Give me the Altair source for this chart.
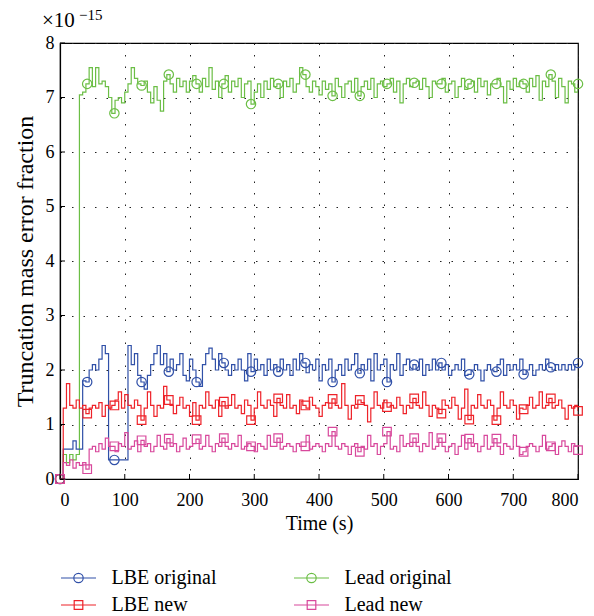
import altair as alt
import pandas as pd

# ---------------- data ----------------
times = list(range(0, 801, 5))  # seconds

lbe_original = [
    0.0, 0.55, 0.55, 0.55, 0.7, 0.55, 0.55, 1.8, 1.78, 2.0,
    2.1, 2.0, 2.2, 2.45, 2.3, 0.35, 0.35, 0.35, 0.35, 0.35,
    0.35, 2.45, 2.1, 2.3, 1.9, 1.78, 1.65, 1.9, 2.1, 2.3,
    2.45, 2.1, 2.3, 1.97, 2.2, 2.0, 2.1, 2.3, 1.9, 1.8,
    2.2, 2.0, 1.78, 1.7, 2.1, 2.3, 2.4, 2.2, 2.0, 2.3,
    2.13, 2.0, 1.9, 2.1, 2.0, 2.2, 2.0, 1.8, 2.3, 1.97,
    2.2, 2.0, 2.1, 1.9, 2.2, 2.0, 2.1, 1.97, 2.2, 2.0,
    2.1, 1.9, 2.2, 2.0, 2.3, 2.13, 1.95, 2.1, 2.0, 2.2,
    1.8, 2.1, 2.0, 2.2, 1.78, 2.0, 2.1, 1.9, 2.2, 2.0,
    2.1, 2.3, 1.94, 2.1, 2.0, 2.2, 1.8, 2.3, 2.0, 2.1,
    2.2, 1.78, 2.1, 2.0, 2.3, 1.9, 2.1, 2.2, 2.0, 2.1,
    2.0, 2.2, 1.9, 2.1, 2.0, 2.2, 2.0, 2.13, 2.0, 2.1,
    1.9, 2.0, 2.1, 2.0, 2.2, 1.9, 1.92, 2.0, 2.1, 2.0,
    1.8, 2.0, 2.1, 2.0, 1.97, 2.1, 2.2, 1.9, 2.1, 2.0,
    2.1, 2.0, 2.2, 1.92, 2.0, 2.1, 1.9, 2.0, 2.1, 2.0,
    2.2, 2.05, 2.0, 2.1, 2.0, 2.1, 2.0, 2.1, 2.0, 2.1,
    2.13,
]

lbe_new = [
    0.0, 1.3, 1.75, 1.35, 1.3, 1.45, 1.3, 1.35, 1.2, 1.3,
    1.35, 1.3, 1.4, 1.15, 1.35, 1.3, 1.35, 1.45, 1.6, 1.3,
    1.55, 1.35, 1.3, 1.45, 1.35, 1.08, 1.3, 1.6, 1.35, 1.15,
    1.35, 1.3, 1.7, 1.45, 1.35, 1.2, 1.35, 1.5, 1.3, 1.35,
    1.15, 1.4, 1.08, 1.35, 1.3, 1.6, 1.35, 1.3, 1.45, 1.15,
    1.42, 1.3, 1.35, 1.55, 1.3, 1.35, 1.2, 1.45, 1.35, 1.08,
    1.3, 1.6, 1.35, 1.3, 1.45, 1.35, 1.15, 1.48, 1.35, 1.3,
    1.55, 1.3, 1.35, 1.2, 1.45, 1.35, 1.3, 1.5, 1.35, 1.3,
    1.15, 1.35, 1.4, 1.3, 1.47, 1.35, 1.3, 1.75, 1.35, 1.1,
    1.35, 1.3, 1.45, 1.4, 1.35, 1.05, 1.3, 1.6, 1.35, 1.3,
    1.45, 1.32, 1.35, 1.3, 1.5, 1.35, 1.2, 1.35, 1.3, 1.48,
    1.35, 1.3, 1.6, 1.35, 1.15, 1.35, 1.3, 1.2, 1.45, 1.35,
    1.3, 1.5, 1.35, 1.1, 1.3, 1.65, 1.09, 1.35, 1.3, 1.55,
    1.35, 1.3, 1.45, 1.35, 1.08, 1.3, 1.6, 1.35, 1.3, 1.45,
    1.35, 1.1, 1.3, 1.28, 1.35, 1.5, 1.3, 1.35, 1.6, 1.3,
    1.35, 1.48, 1.3, 1.35, 1.45, 1.3, 1.1, 1.35, 1.3, 1.35,
    1.25,
]

lead_original = [
    0.0, 0.45, 0.3, 0.45, 0.35, 0.45, 7.05, 7.1, 7.25, 7.55,
    7.2, 7.55, 7.25, 7.3, 7.2, 7.0, 6.71, 6.95, 7.0, 6.9,
    7.1, 7.25, 7.55, 7.35, 7.25, 7.22, 7.3, 7.1, 6.9, 7.2,
    6.95, 6.75, 7.3, 7.42, 7.25, 7.1, 7.35, 7.2, 7.3, 7.1,
    7.3, 7.4, 7.25, 7.1, 7.35, 7.2, 7.55, 7.15, 7.3, 7.0,
    7.25, 7.4, 7.1, 7.3, 7.2, 7.35, 7.0, 7.25, 7.3, 6.88,
    7.1, 7.25, 7.0, 7.3, 7.15, 7.35, 7.2, 7.25, 7.0, 7.3,
    7.2, 7.35, 7.1, 7.25, 7.55, 7.42, 7.2, 7.1, 7.3, 7.2,
    7.05, 7.3, 7.15, 7.25, 7.03, 7.35, 7.2, 7.0, 7.25, 7.3,
    7.1, 7.35, 7.03, 7.2, 7.3, 7.15, 7.35, 7.0, 7.25, 7.3,
    7.2, 7.25, 7.35, 7.1, 7.3, 6.9, 7.25, 7.35, 7.2, 7.27,
    7.3, 7.15, 7.35, 7.2, 7.0, 7.3, 7.25, 7.25, 7.35, 7.1,
    7.25, 7.3, 7.0, 7.2, 7.35, 7.15, 7.25, 7.3, 7.1, 7.35,
    7.2, 7.3, 7.05, 7.25, 7.25, 7.35, 7.2, 6.9, 7.3, 7.15,
    7.35, 7.2, 7.3, 7.25, 7.1, 7.35, 7.2, 7.4, 6.95, 7.3,
    7.2, 7.42, 7.3, 7.0, 7.35, 7.2, 6.9, 7.3, 7.25, 7.1,
    7.25,
]

lead_new = [
    0.0, 0.3, 0.25, 0.35, 0.2, 0.3, 0.25, 0.3, 0.18, 0.55,
    0.6, 0.5, 0.65, 0.55, 0.75, 0.6, 0.6, 0.5, 0.65, 0.6,
    0.85, 0.55, 0.6, 0.7, 0.5, 0.71, 0.6, 0.65, 0.5, 0.6,
    0.8, 0.6, 0.55, 0.74, 0.6, 0.65, 0.5, 0.6, 0.75, 0.55,
    0.6, 0.65, 0.73, 0.55, 0.6, 0.8, 0.6, 0.5, 0.65, 0.6,
    0.75, 0.6, 0.55, 0.65, 0.6, 0.8, 0.55, 0.6, 0.65, 0.6,
    0.5, 0.65, 0.6, 0.55, 0.8, 0.6, 0.6, 0.75, 0.55, 0.6,
    0.65, 0.6, 0.5, 0.65, 0.6, 0.6, 0.8, 0.55, 0.6, 0.65,
    0.6, 0.5, 0.65, 0.6, 0.87, 0.6, 0.55, 0.65, 0.6, 0.45,
    0.6, 0.65, 0.5, 0.6, 0.55, 0.8, 0.6, 0.65, 0.45, 0.6,
    0.65, 0.87, 0.55, 0.6, 0.5, 0.8, 0.6, 0.65, 0.6, 0.75,
    0.6, 0.5, 0.65, 0.6, 0.85, 0.55, 0.6, 0.75, 0.6, 0.5,
    0.6, 0.65, 0.45, 0.6, 0.8, 0.55, 0.74, 0.6, 0.65, 0.5,
    0.6, 0.8, 0.55, 0.6, 0.74, 0.6, 0.45, 0.65, 0.6, 0.55,
    0.8, 0.6, 0.45, 0.5, 0.6, 0.65, 0.6, 0.5, 0.6, 0.8,
    0.55, 0.6, 0.65, 0.45, 0.6, 0.7, 0.6, 0.5, 0.65, 0.6,
    0.53,
]

# marker positions (s) and marker values
marker_t = [0, 42, 84, 126, 168, 211, 253, 295, 337, 379,
            421, 463, 505, 547, 589, 632, 674, 716, 758, 800]
mk_lbe_original = [0.0, 1.78, 0.35, 1.78, 1.97, 1.78, 2.13, 1.97, 1.97, 2.13,
                   1.78, 1.94, 1.78, 2.1, 2.13, 1.92, 1.97, 1.92, 2.05, 2.13]
mk_lbe_new = [0.0, 1.2, 1.35, 1.08, 1.45, 1.08, 1.42, 1.08, 1.48, 1.35,
              1.47, 1.45, 1.32, 1.48, 1.2, 1.09, 1.08, 1.28, 1.48, 1.25]
mk_lead_original = [0.0, 7.25, 6.71, 7.22, 7.42, 7.25, 7.25, 6.88, 7.25, 7.42,
                    7.03, 7.03, 7.25, 7.27, 7.25, 7.25, 7.25, 7.25, 7.42, 7.25]
mk_lead_new = [0.0, 0.18, 0.6, 0.71, 0.74, 0.73, 0.75, 0.6, 0.75, 0.6,
               0.87, 0.5, 0.87, 0.75, 0.75, 0.74, 0.74, 0.5, 0.6, 0.53]

x_ticks = [0, 100, 200, 300, 400, 500, 600, 700, 800]
y_ticks = [0, 1, 2, 3, 4, 5, 6, 7, 8]

series_order = ["LBE original", "LBE new", "Lead original", "Lead new"]
series_colors = ["#3050A8", "#EE2229", "#6BBE45", "#D8489C"]
series_shapes = ["circle", "square", "circle", "square"]

line_data = {
    "LBE original": lbe_original,
    "Lead original": lead_original,
    "LBE new": lbe_new,
    "Lead new": lead_new,
}
marker_data = {
    "LBE original": mk_lbe_original,
    "Lead original": mk_lead_original,
    "LBE new": mk_lbe_new,
    "Lead new": mk_lead_new,
}

rows = []
for s in ["Lead original", "LBE original", "LBE new", "Lead new"]:
    for t, v in zip(times, line_data[s]):
        rows.append({"t": t, "v": v, "series": s})
df_lines = pd.DataFrame(rows)

mrows = []
for s in ["Lead original", "LBE original", "LBE new", "Lead new"]:
    for t, v in zip(marker_t, marker_data[s]):
        mrows.append({"t": t, "v": v, "series": s})
df_markers = pd.DataFrame(mrows)

# ---------------- chart ----------------
FONT = "Liberation Serif"
W, H = 518, 436

xscale = alt.Scale(domain=[0, 800], nice=False)
yscale = alt.Scale(domain=[0, 8], nice=False)
color_scale = alt.Scale(domain=series_order, range=series_colors)

# legend glyphs: short line with a circle / square on it
circ = "M-1.75,0H1.75M-0.47,0A0.47,0.47 0 1,1 0.47,0A0.47,0.47 0 1,1 -0.47,0"
sq = "M-1.75,0H1.75M-0.43,-0.43H0.43V0.43H-0.43Z"
legend_shapes = [circ, sq, circ, sq]


def make_legend():
    return alt.Legend(
        title=None,
        values=series_order,
        orient="none",
        legendX=7.5,
        legendY=524,
        columns=2,
        columnPadding=75,
        rowPadding=6,
        padding=0,
        symbolSize=400,
        symbolStrokeWidth=1.2,
        symbolFillColor="transparent",
        labelFont=FONT,
        labelFontSize=20,
        labelColor="black",
        labelOffset=22,
        labelLimit=300,
    )


x_enc = alt.X(
    "t:Q",
    scale=xscale,
    axis=alt.Axis(
        values=x_ticks,
        title="Time (s)",
        format="d",
        ticks=False,
        grid=True,
        gridDash=[1.5, 10],
        gridColor="#222222",
        gridWidth=1,
        labelPadding=12,
        titlePadding=4,
    ),
)
y_enc = alt.Y(
    "v:Q",
    scale=yscale,
    axis=alt.Axis(
        values=y_ticks,
        title="Truncation mass error fraction",
        titleFontSize=24,
        format="d",
        ticks=False,
        grid=True,
        gridDash=[1.5, 10],
        gridColor="#222222",
        gridWidth=1,
        labelPadding=6,
        titlePadding=8,
    ),
)

lines = alt.Chart(df_lines).mark_line(
    interpolate="step-after", strokeWidth=1.2, clip=True
).encode(
    x=x_enc,
    y=y_enc,
    color=alt.Color("series:N", scale=color_scale, legend=None),
    detail="series:N",
)

markers = alt.Chart(df_markers).mark_point(
    filled=False, strokeWidth=1.2, opacity=1, clip=False
).encode(
    x=alt.X("t:Q", scale=xscale),
    y=alt.Y("v:Q", scale=yscale),
    color=alt.Color("series:N", scale=color_scale, legend=None),
    shape=alt.Shape(
        "series:N",
        scale=alt.Scale(domain=series_order, range=series_shapes),
        legend=None,
    ),
    size=alt.condition(
        "datum.series == 'LBE original' || datum.series == 'Lead original'",
        alt.value(88),
        alt.value(74),
    ),
)

# layer that draws no rows and only carries the legend
legend_layer = alt.Chart(df_markers).transform_filter("false").mark_point(
    filled=False, strokeWidth=1.2, opacity=1
).encode(
    x=alt.X("t:Q", scale=xscale),
    y=alt.Y("v:Q", scale=yscale),
    color=alt.Color("series:N", scale=color_scale, legend=make_legend()),
    shape=alt.Shape(
        "series:N",
        scale=alt.Scale(domain=series_order, range=legend_shapes),
        legend=make_legend(),
    ),
)

xtick_df = pd.DataFrame({"t": x_ticks})
ytick_df = pd.DataFrame({"v": y_ticks})

xticks_in = alt.Chart(xtick_df).mark_rule(color="black", strokeWidth=1).encode(
    x=alt.X("t:Q", scale=xscale),
    y=alt.value(H),
    y2=alt.value(H - 5),
)
yticks_in = alt.Chart(ytick_df).mark_rule(color="black", strokeWidth=1).encode(
    y=alt.Y("v:Q", scale=yscale),
    x=alt.value(0),
    x2=alt.value(5),
)

exp_base = alt.Chart(pd.DataFrame({"label": ["×10"]})).mark_text(
    font=FONT, fontSize=21, align="left", baseline="alphabetic", color="black"
).encode(text="label:N", x=alt.value(-18), y=alt.value(-16))
exp_sup = alt.Chart(pd.DataFrame({"label": ["−15"]})).mark_text(
    font=FONT, fontSize=15, align="left", baseline="alphabetic", color="black"
).encode(text="label:N", x=alt.value(19), y=alt.value(-23))

chart = alt.layer(
    lines, markers, legend_layer, xticks_in, yticks_in, exp_base, exp_sup
).resolve_scale(
    color="independent", shape="independent"
).properties(
    width=W,
    height=H,
    padding={"left": 52, "top": 35, "right": 8, "bottom": 135},
    autosize=alt.AutoSizeParams(type="none"),
    background="white",
).configure_view(
    stroke="black", strokeWidth=1.2
).configure_axis(
    labelFont=FONT,
    labelFontSize=18,
    labelColor="black",
    titleFont=FONT,
    titleFontSize=20,
    titleFontWeight="normal",
    titleColor="black",
    domainColor="black",
    domainWidth=1.2,
)

chart.save("out.html", embed_options={"renderer": "svg", "actions": False})
